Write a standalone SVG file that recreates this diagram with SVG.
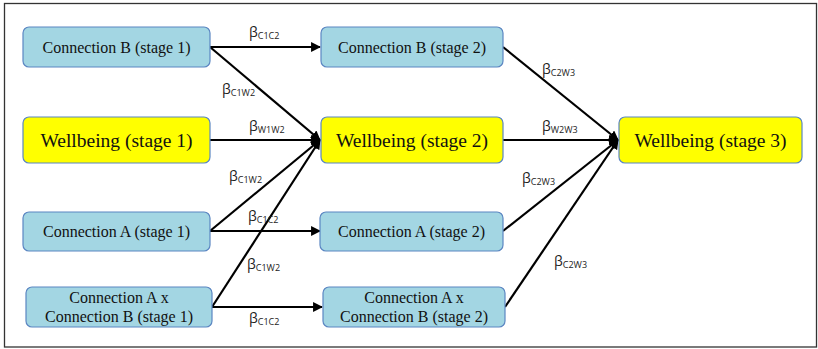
<svg xmlns="http://www.w3.org/2000/svg" width="818" height="349" viewBox="0 0 818 349">
<defs>
<marker id="ah" viewBox="0 0 10 10" refX="9" refY="5" markerWidth="4.5" markerHeight="4.5" orient="auto" markerUnits="strokeWidth">
<path d="M0,0 L10,5 L0,10 z" fill="#000"/>
</marker>
<style>
.blue{fill:#a3d6e3;stroke:#5b86c2;stroke-width:1.2}
.yel{fill:#ffff00;stroke:#5b86c2;stroke-width:1.2}
.t{font-size:16px;fill:#111;text-anchor:middle}
.tw{font-size:19.5px;fill:#111;text-anchor:middle}
.c line{stroke:#000;stroke-width:2.2}
.lab{font-family:'Open Sans','Liberation Sans',sans-serif;font-size:14px;fill:#222}
.lab tspan{font-size:9px}
</style>
</defs>
<rect x="4.5" y="3.5" width="812" height="343.5" fill="#fff" stroke="#333" stroke-width="1.3"/>
<g class="c" id="connectors">
<line x1="210" y1="47" x2="320" y2="47" marker-end="url(#ah)"/>
<line x1="210" y1="47" x2="320" y2="140" marker-end="url(#ah)"/>
<line x1="210" y1="140" x2="320" y2="140" marker-end="url(#ah)"/>
<line x1="210" y1="231" x2="320" y2="140" marker-end="url(#ah)"/>
<line x1="210" y1="231" x2="320" y2="231" marker-end="url(#ah)"/>
<line x1="212" y1="307" x2="320" y2="140" marker-end="url(#ah)"/>
<line x1="212" y1="307" x2="322" y2="307" marker-end="url(#ah)"/>
<line x1="503" y1="47" x2="618" y2="140" marker-end="url(#ah)"/>
<line x1="503" y1="140" x2="618" y2="140" marker-end="url(#ah)"/>
<line x1="503" y1="231" x2="618" y2="140" marker-end="url(#ah)"/>
<line x1="505" y1="307" x2="618" y2="140" marker-end="url(#ah)"/>
</g>
<g id="labels">
<text class="lab" x="249" y="37">β<tspan dy="2">C1C2</tspan></text>
<text class="lab" x="222" y="94">β<tspan dy="2">C1W2</tspan></text>
<text class="lab" x="249" y="131">β<tspan dy="2">W1W2</tspan></text>
<text class="lab" x="229" y="181">β<tspan dy="2">C1W2</tspan></text>
<text class="lab" x="248" y="221">β<tspan dy="2">C1C2</tspan></text>
<text class="lab" x="247" y="269">β<tspan dy="2">C1W2</tspan></text>
<text class="lab" x="249" y="323">β<tspan dy="2">C1C2</tspan></text>
<text class="lab" x="542" y="74">β<tspan dy="2">C2W3</tspan></text>
<text class="lab" x="542" y="131">β<tspan dy="2">W2W3</tspan></text>
<text class="lab" x="522" y="183">β<tspan dy="2">C2W3</tspan></text>
<text class="lab" x="554" y="266">β<tspan dy="2">C2W3</tspan></text>
</g>
<g id="nodes" font-family="Liberation Serif, DejaVu Serif, serif">
<g id="n-cb1"><rect class="blue" x="23" y="27" width="187" height="40" rx="6"/><text class="t" x="116.5" y="53">Connection B (stage 1)</text></g>
<g id="n-w1"><rect class="yel" x="23" y="117" width="187" height="46" rx="6"/><text class="tw" x="116.5" y="147">Wellbeing (stage 1)</text></g>
<g id="n-ca1"><rect class="blue" x="23" y="212" width="187" height="39" rx="6"/><text class="t" x="116.5" y="237">Connection A (stage 1)</text></g>
<g id="n-cab1"><rect class="blue" x="26" y="287" width="186" height="40" rx="6"/><text class="t" x="119" y="303">Connection A x</text><text class="t" x="119" y="322">Connection B (stage 1)</text></g>
<g id="n-cb2"><rect class="blue" x="321" y="27" width="182" height="40" rx="6"/><text class="t" x="412" y="53">Connection B (stage 2)</text></g>
<g id="n-w2"><rect class="yel" x="321" y="117" width="182" height="46" rx="6"/><text class="tw" x="412" y="147">Wellbeing (stage 2)</text></g>
<g id="n-ca2"><rect class="blue" x="320" y="212" width="183" height="39" rx="6"/><text class="t" x="411.5" y="237">Connection A (stage 2)</text></g>
<g id="n-cab2"><rect class="blue" x="323" y="287" width="182" height="40" rx="6"/><text class="t" x="414" y="303">Connection A x</text><text class="t" x="414" y="322">Connection B (stage 2)</text></g>
<g id="n-w3"><rect class="yel" x="619" y="117" width="183" height="46" rx="6"/><text class="tw" x="710.5" y="147">Wellbeing (stage 3)</text></g>
</g>
</svg>
